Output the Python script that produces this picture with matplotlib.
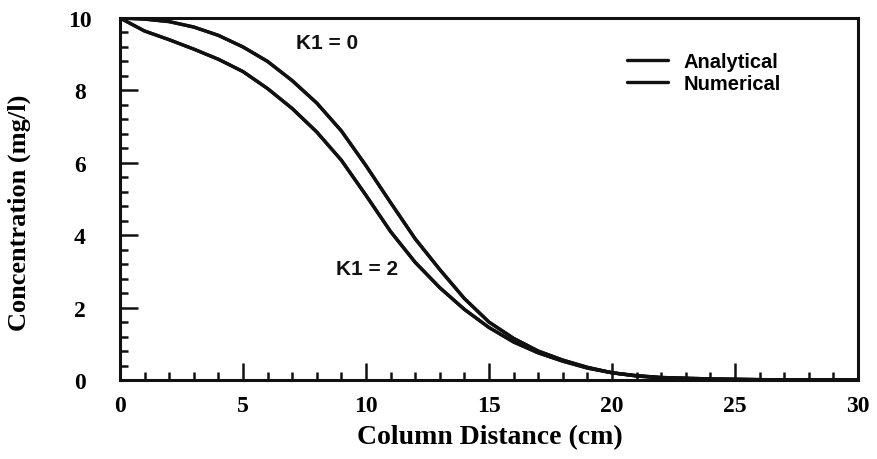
import matplotlib
matplotlib.use("Agg")
import matplotlib.pyplot as plt
from matplotlib.ticker import MultipleLocator

# ---- data ----
distance = [0, 1, 2, 3, 4, 5, 6, 7, 8, 9, 10, 11, 12, 13, 14, 15, 16, 17, 18, 19, 20, 21, 22, 24, 26, 30]
k0_analytical = [10, 9.97, 9.9, 9.75, 9.52, 9.2, 8.8, 8.27, 7.65, 6.88, 5.92, 4.9, 3.9, 3.05, 2.25,
                 1.6, 1.15, 0.8, 0.55, 0.35, 0.2, 0.12, 0.07, 0.03, 0.01, 0.0]
k0_numerical = [10, 9.97, 9.9, 9.75, 9.52, 9.2, 8.8, 8.27, 7.65, 6.88, 5.92, 4.9, 3.9, 3.05, 2.25,
                1.6, 1.15, 0.8, 0.55, 0.35, 0.2, 0.12, 0.07, 0.03, 0.01, 0.0]
k2_analytical = [10, 9.64, 9.4, 9.14, 8.86, 8.52, 8.05, 7.5, 6.85, 6.07, 5.1, 4.1, 3.25, 2.55, 1.95,
                 1.45, 1.05, 0.75, 0.52, 0.33, 0.2, 0.11, 0.06, 0.02, 0.01, 0.0]
k2_numerical = [10, 9.64, 9.4, 9.14, 8.86, 8.52, 8.05, 7.5, 6.85, 6.07, 5.1, 4.1, 3.25, 2.55, 1.95,
                1.45, 1.05, 0.75, 0.52, 0.33, 0.2, 0.11, 0.06, 0.02, 0.01, 0.0]
series_labels = ["Analytical", "Numerical"]
x_label = "Column Distance (cm)"
y_label = "Concentration (mg/l)"
annot_k0 = "K1 = 0"
annot_k2 = "K1 = 2"

W, H = 877, 460
fig = plt.figure(figsize=(W / 100, H / 100), dpi=100)
left, right, top, bottom = 120, 858, 19, 381
ax = fig.add_axes([left / W, 1 - bottom / H, (right - left) / W, (bottom - top) / H])

ink = "#111111"
lw = 2.4
l1, = ax.plot(distance, k0_analytical, color=ink, lw=lw, solid_capstyle="round")
l2, = ax.plot(distance, k0_numerical, color=ink, lw=lw, solid_capstyle="round")
ax.plot(distance, k2_analytical, color=ink, lw=lw, solid_capstyle="round")
ax.plot(distance, k2_numerical, color=ink, lw=lw, solid_capstyle="round")

ax.set_xlim(0, 30)
ax.set_ylim(0, 10)
ax.xaxis.set_major_locator(MultipleLocator(5))
ax.xaxis.set_minor_locator(MultipleLocator(1))
ax.yaxis.set_major_locator(MultipleLocator(2))
ax.yaxis.set_minor_locator(MultipleLocator(0.4))

for s in ax.spines.values():
    s.set_linewidth(2.2)
    s.set_color(ink)

ax.tick_params(axis="both", which="both", direction="in", color=ink, width=1.8,
               top=False, right=False)
ax.tick_params(axis="x", which="major", length=12, pad=11)
ax.tick_params(axis="x", which="minor", length=6)
ax.tick_params(axis="y", which="major", length=13, pad=29)
ax.tick_params(axis="y", which="minor", length=6)

serif = ["Liberation Serif", "DejaVu Serif"]
sans = ["Liberation Sans", "DejaVu Sans"]
for lab in ax.get_xticklabels():
    lab.set_fontfamily(serif)
    lab.set_fontweight("bold")
    lab.set_fontsize(17)
for lab in ax.get_yticklabels():
    lab.set_fontfamily(serif)
    lab.set_fontweight("bold")
    lab.set_fontsize(17)
    lab.set_horizontalalignment("center")

ax.set_xlabel(x_label, family=serif, fontweight="bold", fontsize=20)
ax.set_ylabel(y_label, family=serif, fontweight="bold", fontsize=19)
ax.xaxis.set_label_coords(0.501, -0.122)
ax.yaxis.set_label_coords(-0.12, 0.465)

ax.text(8.41, 9.33, annot_k0, family=sans, fontweight="bold", fontsize=15,
        ha="center", va="center", color=ink)
ax.text(10.04, 3.07, annot_k2, family=sans, fontweight="bold", fontsize=15,
        ha="center", va="center", color=ink)

leg = ax.legend([l1, l2], series_labels, loc="upper left", bbox_to_anchor=(0.687, 0.905),
                frameon=False, borderpad=0, borderaxespad=0, handlelength=2.05,
                handletextpad=0.75, labelspacing=0.15,
                prop={"family": sans, "weight": "bold", "size": 14.5})

fig.savefig("out.png", dpi=100)
